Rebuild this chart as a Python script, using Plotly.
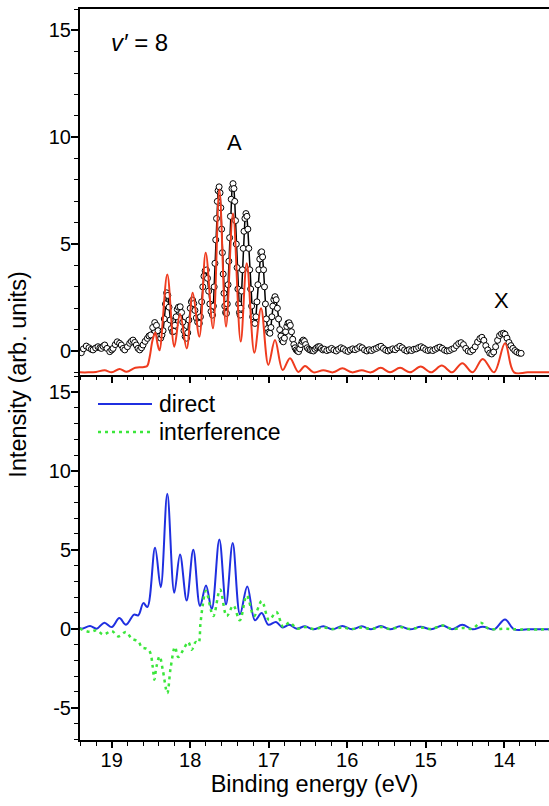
import plotly.graph_objects as go

# ---------------- data ----------------
# Measured photoelectron spectrum, v' = 8 (open circles)
exp_energy = [
    19.387, 19.36, 19.324, 19.29, 19.26, 19.238, 19.205, 19.175, 19.15, 19.132,
    19.11, 19.089, 19.06, 19.025, 19.0, 18.983, 18.955, 18.929, 18.90, 18.878,
    18.855, 18.834, 18.80, 18.771, 18.75, 18.729, 18.707, 18.687, 18.665, 18.643,
    18.62, 18.601, 18.575, 18.546, 18.525, 18.503, 18.478, 18.452, 18.43, 18.41,
    18.39, 18.376, 18.36, 18.346, 18.33, 18.315, 18.30, 18.285, 18.27, 18.255,
    18.24, 18.225, 18.21, 18.195, 18.18, 18.165, 18.15, 18.128, 18.11, 18.095,
    18.08, 18.065, 18.047, 18.032, 18.017, 18.0, 17.985, 17.97, 17.955, 17.94,
    17.922, 17.905, 17.884, 17.87, 17.855, 17.84, 17.825, 17.81, 17.795, 17.78,
    17.765, 17.75, 17.735, 17.716, 17.705, 17.695, 17.685, 17.675, 17.665, 17.655,
    17.645, 17.632, 17.62, 17.61, 17.60, 17.59, 17.58, 17.57, 17.56, 17.55,
    17.538, 17.528, 17.518, 17.508, 17.498, 17.488, 17.478, 17.468, 17.455, 17.443,
    17.433, 17.423, 17.413, 17.403, 17.393, 17.383, 17.373, 17.365, 17.355, 17.345,
    17.335, 17.325, 17.315, 17.303, 17.29, 17.278, 17.266, 17.254, 17.242, 17.23,
    17.218, 17.205, 17.19, 17.176, 17.163, 17.15, 17.138, 17.126, 17.114, 17.102,
    17.09, 17.078, 17.066, 17.054, 17.042, 17.03, 17.015, 17.0, 16.985, 16.972,
    16.96, 16.948, 16.935, 16.92, 16.905, 16.89, 16.875, 16.86, 16.845, 16.83,
    16.815, 16.80, 16.785, 16.77, 16.755, 16.74, 16.725, 16.71, 16.695, 16.68,
    16.665, 16.65, 16.635, 16.62, 16.605, 16.59, 16.575, 16.56, 16.545, 16.53,
    16.51, 16.49, 16.47, 16.45, 16.43, 16.41, 16.39, 16.37, 16.35, 16.33,
    16.31, 16.29, 16.26, 16.23, 16.20, 16.17, 16.14, 16.11, 16.08, 16.05,
    16.02, 15.99, 15.96, 15.93, 15.90, 15.87, 15.84, 15.81, 15.78, 15.75,
    15.72, 15.69, 15.66, 15.63, 15.60, 15.57, 15.54, 15.51, 15.48, 15.45,
    15.42, 15.39, 15.36, 15.33, 15.30, 15.27, 15.24, 15.21, 15.18, 15.15,
    15.12, 15.09, 15.06, 15.03, 15.00, 14.97, 14.94, 14.91, 14.88, 14.85,
    14.82, 14.79, 14.76, 14.73, 14.70, 14.67, 14.64, 14.61, 14.58, 14.55,
    14.52, 14.49, 14.46, 14.43, 14.40, 14.37, 14.34, 14.31, 14.285, 14.26,
    14.235, 14.21, 14.185, 14.16, 14.135, 14.11, 14.085, 14.06, 14.035, 14.01,
    13.99, 13.965, 13.94, 13.915, 13.89, 13.865, 13.84, 13.81, 13.785,
]
exp_intensity = [
    -0.08, 0.10, 0.23, 0.15, 0.08, 0.05, 0.14, 0.20, 0.15, 0.12,
    0.22, 0.28, 0.12, -0.03, 0.05, 0.12, 0.30, 0.43, 0.36, 0.28,
    0.12, 0.05, 0.20, 0.36, 0.45, 0.51, 0.40, 0.28, 0.12, 0.05,
    0.15, 0.28, 0.45, 0.59, 0.70, 0.75, 1.10, 1.33, 1.20, 0.95,
    0.70, 0.60, 0.75, 0.95, 1.50, 2.20, 2.72, 2.60, 2.05, 1.45,
    1.05, 0.90, 0.92, 1.20, 1.60, 1.95, 2.05, 2.07, 1.80, 1.35,
    0.95, 0.68, 0.60, 0.85, 1.45, 2.00, 2.30, 2.38, 2.22, 1.90,
    1.55, 1.35, 1.29, 1.60, 2.30, 3.00, 3.50, 3.75, 3.79, 3.40,
    2.80, 2.20, 1.85, 1.68, 2.10, 3.00, 4.10, 5.20, 6.20, 7.00,
    7.50, 7.68, 7.40, 6.70, 5.70, 4.60, 3.60, 2.70, 2.10, 1.80,
    1.76, 2.20, 3.10, 4.20, 5.30, 6.30, 7.10, 7.60, 7.83, 7.60,
    7.00, 6.10, 5.00, 3.90, 2.90, 2.20, 1.80, 1.68, 2.00, 2.80,
    3.80, 4.80, 5.60, 6.20, 6.43, 6.30, 5.70, 4.80, 3.80, 2.90,
    2.10, 1.60, 1.35, 1.29, 1.60, 2.30, 3.10, 3.80, 4.30, 4.60,
    4.64, 4.40, 3.80, 3.00, 2.20, 1.50, 1.05, 0.88, 0.83, 1.10,
    1.60, 2.10, 2.40, 2.54, 2.40, 2.00, 1.50, 1.00, 0.70, 0.50,
    0.43, 0.60, 0.90, 1.15, 1.30, 1.32, 1.20, 0.90, 0.55, 0.30,
    0.15, 0.05, 0.00, -0.03, 0.10, 0.30, 0.45, 0.51, 0.45, 0.30,
    0.15, 0.08, 0.04, 0.02, 0.00, 0.08, 0.15, 0.20, 0.20, 0.12,
    0.05, 0.08, 0.02, 0.06, 0.12, 0.05, 0.00, 0.08, 0.15, 0.10,
    0.02, -0.02, 0.05, 0.10, 0.06, 0.12, 0.20, 0.15, 0.05, 0.00,
    0.06, 0.02, 0.08, 0.12, 0.18, 0.22, 0.12, 0.04, 0.00, 0.05,
    0.10, 0.06, 0.15, 0.22, 0.15, 0.05, 0.00, 0.06, 0.02, 0.08,
    0.10, 0.16, 0.20, 0.14, 0.06, 0.02, 0.05, 0.02, 0.08, 0.14,
    0.18, 0.12, 0.04, 0.00, 0.02, 0.08, 0.12, 0.25, 0.35, 0.39,
    0.30, 0.12, 0.00, -0.03, 0.05, 0.20, 0.42, 0.58, 0.64, 0.50,
    0.25, 0.05, -0.10, -0.14, -0.05, 0.20, 0.50, 0.72, 0.80, 0.83,
    0.78, 0.60, 0.40, 0.25, 0.12, 0.02, -0.05, -0.10, -0.11,
]

# Calculated spectrum (red line, offset baseline)
theory_energy = [
    19.404, 19.30, 19.20, 19.09, 19.00, 18.90, 18.81, 18.70, 18.62, 18.575,
    18.545, 18.516, 18.48, 18.445, 18.415, 18.391, 18.292, 18.203, 18.130, 18.045,
    17.968, 17.884, 17.803, 17.710, 17.629, 17.544, 17.455, 17.357, 17.280, 17.183,
    17.098, 17.005, 16.920, 16.822, 16.729, 16.623, 16.538, 16.429, 16.305, 16.181,
    16.062, 15.939, 15.815, 15.697, 15.573, 15.455, 15.327, 15.200, 15.064, 14.932,
    14.796, 14.665, 14.534, 14.404, 14.274, 14.130, 13.990, 13.875, 13.70, 13.43,
]
theory_intensity = [
    -1.00, -1.00, -0.98, -0.90, -1.00, -0.84, -0.97, -0.78, -0.76, -0.74,
    -0.68, -0.27, 0.50, 0.86, 0.30, 0.03, 3.58, 0.20, 1.73, 0.12,
    2.73, 0.67, 4.60, 1.06, 7.55, 1.14, 6.43, 0.44, 4.10, -0.08,
    2.00, -0.65, 0.51, -0.89, -0.34, -0.98, -0.70, -1.00, -0.90, -1.00,
    -0.81, -1.00, -0.90, -1.00, -0.79, -1.00, -0.79, -1.00, -0.73, -1.00,
    -0.68, -1.00, -0.57, -1.00, -0.37, -1.00, 0.36, -1.00, -1.00, -1.00,
]

# Decomposition of the calculated spectrum
direct_energy = [
    19.404, 19.382, 19.276, 19.191, 19.094, 19.000, 18.903, 18.818, 18.716, 18.661,
    18.597, 18.546, 18.448, 18.376, 18.292, 18.203, 18.130, 18.045, 17.961, 17.875,
    17.799, 17.726, 17.629, 17.544, 17.459, 17.366, 17.273, 17.175, 17.089, 17.005,
    16.907, 16.822, 16.738, 16.643, 16.538, 16.432, 16.305, 16.185, 16.062, 15.939,
    15.815, 15.697, 15.573, 15.455, 15.327, 15.200, 15.064, 14.932, 14.783, 14.665,
    14.534, 14.404, 14.274, 14.130, 13.990, 13.875, 13.70, 13.43,
]
direct_intensity = [
    0.05, 0.00, 0.17, 0.00, 0.38, 0.10, 0.67, 0.25, 0.89, 0.85,
    1.62, 1.37, 5.13, 2.63, 8.54, 2.28, 4.70, 1.79, 5.00, 1.43,
    2.74, 1.24, 5.65, 1.54, 5.42, 0.91, 2.68, 0.53, 0.99, 0.25,
    0.42, 0.08, 0.25, 0.00, 0.15, -0.04, 0.15, -0.04, 0.17, -0.04,
    0.15, -0.04, 0.17, -0.04, 0.15, -0.04, 0.12, -0.04, 0.20, -0.04,
    0.25, -0.04, 0.12, -0.04, 0.59, -0.04, -0.04, -0.04,
]

interference_energy = [
    19.404, 19.382, 19.276, 19.191, 19.107, 19.000, 18.916, 18.818, 18.745, 18.661,
    18.618, 18.554, 18.512, 18.478, 18.457, 18.430, 18.390, 18.350, 18.292, 18.250,
    18.194, 18.152, 18.088, 18.024, 17.981, 17.930, 17.895, 17.870, 17.840, 17.800,
    17.706, 17.620, 17.535, 17.451, 17.369, 17.280, 17.187, 17.089, 16.996, 16.903,
    16.814, 16.733, 16.643, 16.538, 16.432, 16.305, 16.185, 16.062, 15.939, 15.815,
    15.697, 15.573, 15.455, 15.327, 15.200, 15.064, 14.932, 14.783, 14.665, 14.534,
    14.404, 14.300, 14.200, 14.100, 13.990, 13.875, 13.43,
]
interference_intensity = [
    0.00, -0.05, -0.20, -0.10, -0.37, -0.15, -0.49, -0.21, -0.63, -0.80,
    -1.18, -1.27, -1.48, -2.40, -3.23, -2.40, -1.75, -2.60, -4.08, -2.50,
    -1.16, -1.80, -1.33, -0.85, -1.33, -0.85, -0.90, 0.30, 1.50, 2.40,
    0.80, 2.48, 0.80, 1.47, 0.53, 2.10, 0.80, 1.75, 0.55, 1.05,
    0.10, 0.40, 0.00, 0.10, -0.02, 0.08, -0.02, 0.08, -0.02, 0.08,
    -0.02, 0.10, -0.02, 0.10, -0.02, 0.08, -0.02, 0.20, -0.02, 0.05,
    0.00, 0.38, 0.00, -0.03, 0.00, -0.04, -0.04,
]

# axis ticks
y_top_ticks = [0, 5, 10, 15]
y_bottom_ticks = [-5, 0, 5, 10, 15]
y_bottom_labels = ["-5", "0", "5", "10", "15"]
x_ticks = [19, 18, 17, 16, 15, 14]

# ---------------- styling ----------------
FONT = "Liberation Sans, Arial, Helvetica, sans-serif"
RED = "#ef3b1e"
BLUE = "#1f2fe0"
GREEN = "#3be63b"
X_RANGE = [19.404, 13.43]
GREEN_DASH = "3px,4px"

fig = go.Figure()

fig.add_trace(go.Scatter(
    x=exp_energy, y=exp_intensity, mode="lines+markers",
    line=dict(color="black", width=1.5),
    marker=dict(symbol="circle", size=6, color="white",
                line=dict(color="black", width=1)),
    xaxis="x", yaxis="y", showlegend=False, name="experiment",
))
fig.add_trace(go.Scatter(
    x=theory_energy, y=theory_intensity, mode="lines",
    line=dict(color=RED, width=2, shape="spline", smoothing=1),
    xaxis="x", yaxis="y", showlegend=False, name="theory",
))
fig.add_trace(go.Scatter(
    x=direct_energy, y=direct_intensity, mode="lines",
    line=dict(color=BLUE, width=2, shape="spline", smoothing=1),
    xaxis="x2", yaxis="y2", showlegend=False, name="direct",
))
fig.add_trace(go.Scatter(
    x=interference_energy, y=interference_intensity, mode="lines",
    line=dict(color=GREEN, width=2.5, dash=GREEN_DASH, shape="spline", smoothing=1),
    xaxis="x2", yaxis="y2", showlegend=False, name="interference",
))

axis_common = dict(
    showline=True, linewidth=2, linecolor="black",
    ticks="outside", tickwidth=1.6, tickcolor="black",
    showgrid=False, zeroline=False,
    tickfont=dict(family=FONT, size=20, color="black"),
)
minor_x = dict(dtick=0.2, ticklen=3.5, ticks="outside", tickwidth=1.4, tickcolor="black")
minor_y = dict(dtick=1, tick0=0, ticklen=4, ticks="outside", tickwidth=1.4, tickcolor="black")

fig.update_layout(
    width=549, height=806,
    margin=dict(l=80, r=0, t=9, b=66),
    paper_bgcolor="white", plot_bgcolor="white",
    font=dict(family=FONT, color="black"),
    xaxis=dict(
        **axis_common, domain=[0, 1], anchor="y", range=X_RANGE,
        tickvals=x_ticks, ticklen=6, showticklabels=False, mirror=True,
        minor=minor_x,
    ),
    yaxis=dict(
        **axis_common, domain=[0.5, 1], anchor="x", range=[-1.1, 16],
        tickvals=y_top_ticks, ticklen=7, ticklabelstandoff=-4,
        minor=minor_y,
    ),
    xaxis2=dict(
        **axis_common, domain=[0, 1], anchor="y2", range=X_RANGE, matches="x",
        tickvals=x_ticks, ticklen=6, ticklabelstandoff=-5,
        minor=minor_x,
        title=dict(text="Binding energy (eV)", standoff=2,
                   font=dict(family=FONT, size=23.5, color="black")),
    ),
    yaxis2=dict(
        **axis_common, domain=[0, 0.5], anchor="x2", range=[-7.05, 16.1],
        tickvals=y_bottom_ticks, ticktext=y_bottom_labels, ticklen=7,
        ticklabelstandoff=-4,
        minor=minor_y,
    ),
)

# shared y-axis title
fig.add_annotation(
    text="Intensity (arb. units)", xref="paper", yref="paper",
    x=-0.134, y=0.5, xanchor="center", yanchor="middle", textangle=-90,
    showarrow=False, font=dict(family=FONT, size=23.5, color="black"),
)

# panel labels
fig.add_annotation(text="<i>v′</i> = 8", xref="x", yref="y", x=18.64, y=14.45,
                   showarrow=False, font=dict(family=FONT, size=24, color="black"))
fig.add_annotation(text="A", xref="x", yref="y", x=17.442, y=9.77,
                   showarrow=False, font=dict(family=FONT, size=22, color="black"))
fig.add_annotation(text="X", xref="x", yref="y", x=14.04, y=2.38,
                   showarrow=False, font=dict(family=FONT, size=22, color="black"))

# key for the lower panel
legend_rows = [("direct", BLUE, "solid", 2, 0.4596),
               ("interference", GREEN, GREEN_DASH, 2.5, 0.4213)]
for label, color, dash, width, ypos in legend_rows:
    fig.add_shape(type="line", xref="paper", yref="paper",
                  x0=0.0384, x1=0.1535, y0=ypos, y1=ypos,
                  line=dict(color=color, width=width, dash=dash))
    fig.add_annotation(text=label, xref="paper", yref="paper",
                       x=0.165, y=ypos, xanchor="left", yanchor="middle",
                       showarrow=False,
                       font=dict(family=FONT, size=23, color="black"))

fig.write_html("out.html")
